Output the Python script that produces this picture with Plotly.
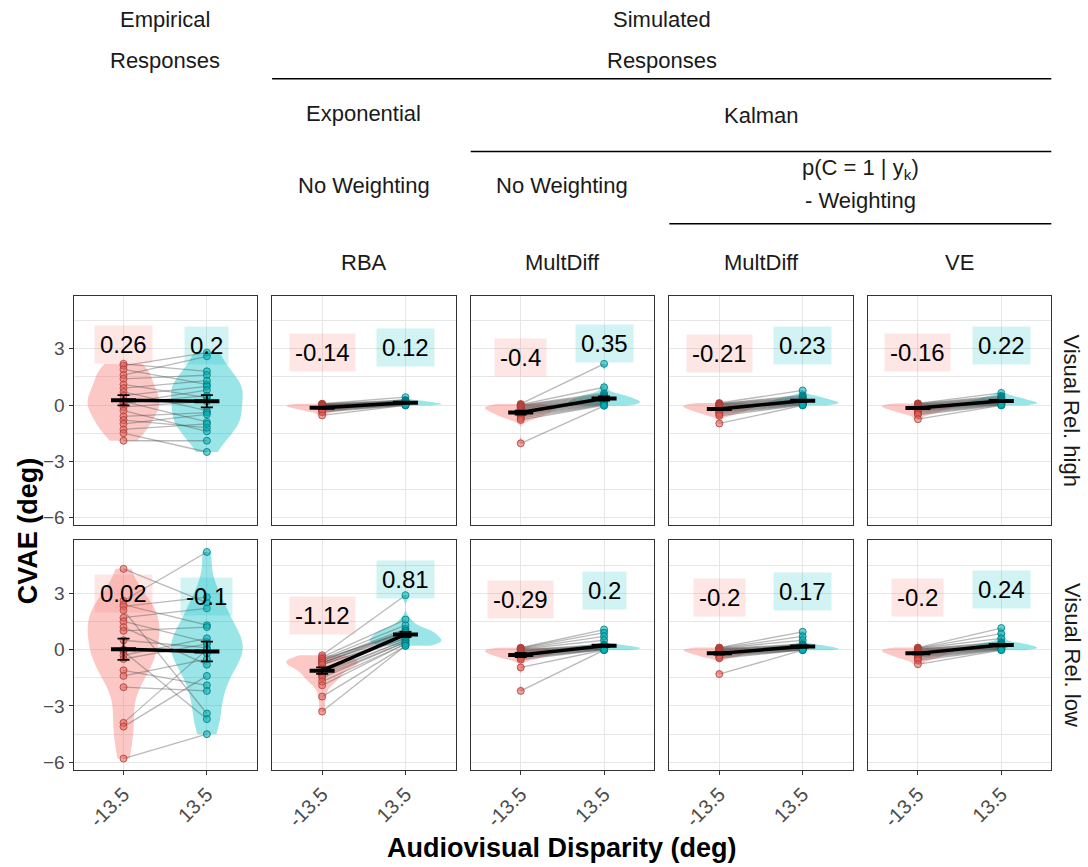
import numpy as np
import plotly.graph_objects as go

W, H = 1088, 867
FONT = "Liberation Sans, Arial, sans-serif"

# ---- axis values -------------------------------------------------------
disparity_pos = [1, 2]
disparity_ticks = ["-13.5", "13.5"]
y_ticks = [-6, -3, 0, 3]
y_minor = [-4.5, -1.5, 1.5, 4.5]
row_labels = ["Visual Rel. high", "Visual Rel. low"]

# ---- per-subject CVAE (deg) at -13.5 (neg) and 13.5 (pos) disparity ----
# Empirical responses
emp_high_neg = [2.2, 2.1, 1.9, 1.6, 1.4, 1.1, 0.9, 0.7, 0.5, 0.1, 0.2, 0.1, -0.1, -0.3, -0.6, -0.8, -1.0, -1.3, -1.5, -1.9]
emp_high_pos = [1.8, 2.8, 1.1, 2.6, 1.6, 0.4, 1.3, -0.3, 1.0, 0.8, -0.9, 0.5, 0.2, -1.4, -0.4, -1.2, -0.5, -1.0, -2.5, -1.9]
emp_low_neg = [4.3, 2.6, 2.4, 2.3, 2.1, 1.7, 1.5, 1.2, 1.0, 0.5, -0.1, 0.0, -0.3, -0.5, -1.1, -1.4, -2.0, -3.9, -4.1, -5.8]
emp_low_pos = [2.5, 5.2, 1.3, 2.8, -3.4, 2.2, 0.4, -0.8, 1.2, 0.1, -3.7, -0.2, 0.6, 0.3, -1.9, -0.5, -2.2, 0.0, -1.4, -4.5]

# Exponential, no weighting (RBA)
rba_high_neg = [0.07, 0.06, 0.04, 0.02, 0.0, -0.01, -0.03, -0.05, -0.07, -0.09, -0.12, -0.14, -0.16, -0.19, -0.22, -0.25, -0.29, -0.33, -0.38, -0.55]
rba_high_pos = [0.42, 0.27, 0.24, 0.21, 0.19, 0.17, 0.15, 0.14, 0.12, 0.1, 0.09, 0.08, 0.06, 0.05, 0.04, 0.03, 0.02, 0.01, -0.01, -0.02]
rba_low_neg = [-0.3, -0.4, -0.5, -0.6, -0.7, -0.5, -0.6, -0.7, -0.7, -0.8, -0.8, -1.0, -1.2, -1.3, -1.4, -1.5, -1.7, -1.9, -2.5, -3.3]
rba_low_pos = [2.9, 1.6, 1.3, 1.1, 1.0, 0.9, 1.0, 0.9, 0.8, 0.7, 0.6, 0.6, 0.5, 0.5, 0.4, 0.4, 0.3, 0.3, 0.2, 0.2]

# Kalman, no weighting (MultDiff)
md_high_neg = [0.06, 0.03, 0.0, -0.03, -0.06, -0.1, -0.13, -0.17, -0.21, -0.25, -0.29, -0.34, -0.39, -0.44, -0.49, -0.55, -0.62, -0.7, -0.79, -2.04]
md_high_pos = [2.2, 0.95, 0.63, 0.56, 0.5, 0.45, 0.4, 0.36, 0.32, 0.28, 0.24, 0.2, 0.17, 0.14, 0.11, 0.08, 0.05, 0.02, -0.01, -0.04]
md_low_neg = [0.1, 0.08, 0.05, 0.03, 0.0, -0.03, -0.06, -0.09, -0.12, -0.16, -0.19, -0.23, -0.27, -0.31, -0.36, -0.41, -0.46, -0.53, -0.95, -2.2]
md_low_pos = [1.07, 0.9, 0.7, 0.5, 0.27, 0.23, 0.2, 0.18, 0.16, 0.14, 0.12, 0.1, 0.08, 0.06, 0.04, 0.02, 0.01, 0.0, -0.02, -0.03]

# Kalman, p(C=1|y_k)-weighting (MultDiff)
kmd_high_neg = [0.11, 0.08, 0.06, 0.03, 0.01, -0.02, -0.05, -0.08, -0.11, -0.14, -0.18, -0.21, -0.25, -0.29, -0.33, -0.38, -0.43, -0.49, -0.57, -0.98]
kmd_high_pos = [0.78, 0.52, 0.46, 0.41, 0.37, 0.33, 0.29, 0.26, 0.23, 0.2, 0.18, 0.15, 0.13, 0.1, 0.08, 0.06, 0.04, 0.02, 0.0, -0.02]
kmd_low_neg = [0.11, 0.09, 0.07, 0.05, 0.02, 0.0, -0.02, -0.05, -0.07, -0.1, -0.13, -0.16, -0.19, -0.22, -0.26, -0.3, -0.35, -0.4, -0.46, -1.3]
kmd_low_pos = [0.95, 0.7, 0.5, 0.3, 0.25, 0.22, 0.19, 0.16, 0.14, 0.12, 0.1, 0.08, 0.06, 0.04, 0.03, 0.01, 0.0, -0.01, -0.02, -0.03]

# Kalman, p(C=1|y_k)-weighting (VE)
ve_high_neg = [0.09, 0.07, 0.05, 0.02, 0.0, -0.03, -0.05, -0.08, -0.11, -0.13, -0.16, -0.2, -0.23, -0.27, -0.3, -0.35, -0.39, -0.45, -0.52, -0.75]
ve_high_pos = [0.65, 0.49, 0.44, 0.39, 0.35, 0.31, 0.28, 0.25, 0.22, 0.19, 0.17, 0.14, 0.12, 0.1, 0.08, 0.06, 0.04, 0.02, 0.0, -0.02]
ve_low_neg = [0.11, 0.08, 0.06, 0.03, 0.01, -0.02, -0.05, -0.08, -0.11, -0.14, -0.18, -0.21, -0.25, -0.29, -0.33, -0.38, -0.43, -0.49, -0.57, -0.78]
ve_low_pos = [1.15, 0.85, 0.6, 0.4, 0.35, 0.31, 0.28, 0.25, 0.22, 0.19, 0.16, 0.13, 0.11, 0.09, 0.07, 0.05, 0.03, 0.01, -0.01, -0.03]

# Group means shown in the labels (per column: Empirical, RBA, MultDiff, MultDiff, VE)
mean_high_neg = [0.26, -0.14, -0.4, -0.21, -0.16]
mean_high_pos = [0.2, 0.12, 0.35, 0.23, 0.22]
mean_low_neg = [0.02, -1.12, -0.29, -0.2, -0.2]
mean_low_pos = [-0.1, 0.81, 0.2, 0.17, 0.24]

panel_data = [
    [(emp_high_neg, emp_high_pos), (rba_high_neg, rba_high_pos), (md_high_neg, md_high_pos),
     (kmd_high_neg, kmd_high_pos), (ve_high_neg, ve_high_pos)],
    [(emp_low_neg, emp_low_pos), (rba_low_neg, rba_low_pos), (md_low_neg, md_low_pos),
     (kmd_low_neg, kmd_low_pos), (ve_low_neg, ve_low_pos)],
]
panel_means = [(mean_high_neg, mean_high_pos), (mean_low_neg, mean_low_pos)]

# ---- styling -----------------------------------------------------------
RED, CYAN = (248, 118, 109), (0, 191, 196)
def rgba(c, a):
    return f"rgba({c[0]},{c[1]},{c[2]},{a})"

GRID = "#E6E6E6"
BORDER = "#333333"
TICKTXT = "#4D4D4D"
STRIP = "#1A1A1A"
LABEL_OFFSET = 2.95
Y_RANGE = [-6.4, 5.83]
X_RANGE = [0.4, 2.6]

col_left = [73.5, 272.1, 470.7, 669.3, 867.9]
col_w = 183.4
row_span = [(296.7, 527.0), (542.0, 772.5)]

def fx(p):
    return p / W

def fy(p):
    return 1 - p / H

def nrd0(v):
    v = np.asarray(v, float)
    sd = v.std(ddof=1)
    iqr = np.subtract(*np.percentile(v, [75, 25]))
    lo = min(sd, iqr / 1.34) if iqr > 0 else sd
    return 0.9 * lo * len(v) ** -0.2

def fmt(v):
    return f"{v:g}"

fig = go.Figure()
layout = {}
annotations = []
shapes = []

for r in range(2):
    for c in range(5):
        k = r * 5 + c + 1
        sfx = "" if k == 1 else str(k)
        xa, ya = "x" + sfx, "y" + sfx
        neg, pos = panel_data[r][c]
        m_neg, m_pos = panel_means[r][0][c], panel_means[r][1][c]

        # density shapes
        for xpos, vals, col in [(1, neg, RED), (2, pos, CYAN)]:
            fig.add_trace(go.Violin(
                x0=xpos, y=vals, xaxis=xa, yaxis=ya, orientation="v",
                width=0.86, scalemode="width", spanmode="hard",
                bandwidth=nrd0(vals), points=False,
                fillcolor=rgba(col, 0.4), line=dict(width=0, color=rgba(col, 0.4)),
                box_visible=False, meanline_visible=False,
                hoverinfo="skip", showlegend=False))

        # paired subject lines
        lx, ly = [], []
        for a, b in zip(neg, pos):
            lx += [1, 2, None]
            ly += [a, b, None]
        fig.add_trace(go.Scatter(x=lx, y=ly, xaxis=xa, yaxis=ya, mode="lines",
                                 line=dict(color="rgba(80,80,80,0.4)", width=1.3),
                                 hoverinfo="skip", showlegend=False))

        # subject points
        for xpos, vals, fill, edge in [(1, neg, "rgba(225,95,88,0.55)", "rgba(170,60,55,0.8)"),
                                       (2, pos, "rgba(0,175,180,0.55)", "rgba(0,120,125,0.8)")]:
            fig.add_trace(go.Scatter(x=[xpos] * len(vals), y=vals, xaxis=xa, yaxis=ya,
                                     mode="markers",
                                     marker=dict(size=7, color=fill, line=dict(color=edge, width=1)),
                                     hoverinfo="skip", showlegend=False))

        # mean +/- SE
        se = [np.std(neg, ddof=1) / np.sqrt(len(neg)), np.std(pos, ddof=1) / np.sqrt(len(pos))]
        fig.add_trace(go.Scatter(x=disparity_pos, y=[m_neg, m_pos], xaxis=xa, yaxis=ya,
                                 mode="lines", line=dict(color="black", width=3.5),
                                 error_y=dict(type="data", array=se, color="black",
                                              thickness=1.8, width=6),
                                 hoverinfo="skip", showlegend=False))
        fig.add_trace(go.Scatter(x=[0.85, 1.15, None, 1.85, 2.15],
                                 y=[m_neg, m_neg, None, m_pos, m_pos],
                                 xaxis=xa, yaxis=ya, mode="lines",
                                 line=dict(color="black", width=4),
                                 hoverinfo="skip", showlegend=False))

        # mean labels
        for xpos, m, col in [(1, m_neg, RED), (2, m_pos, CYAN)]:
            annotations.append(dict(x=xpos, y=m + LABEL_OFFSET, xref=xa, yref=ya,
                                    text=fmt(m), showarrow=False,
                                    font=dict(size=24, color="black", family=FONT),
                                    bgcolor=rgba(col, 0.18), borderpad=5,
                                    xanchor="center", yanchor="middle"))

        y0, y1 = row_span[r]
        x0 = col_left[c]
        layout["xaxis" + sfx] = dict(
            domain=[fx(x0), fx(x0 + col_w)], anchor=ya, range=X_RANGE, type="linear",
            tickvals=disparity_pos, ticktext=disparity_ticks,
            showticklabels=(r == 1), ticks="outside" if r == 1 else "",
            ticklen=4, tickwidth=1, tickcolor=BORDER, tickangle=-45,
            tickfont=dict(size=20, color=TICKTXT, family=FONT),
            showgrid=True, gridcolor=GRID, gridwidth=1.2, zeroline=False,
            showline=True, mirror=True, linecolor=BORDER, linewidth=1, fixedrange=True)
        layout["yaxis" + sfx] = dict(
            domain=[fy(y1), fy(y0)], anchor=xa, range=Y_RANGE, type="linear",
            tickvals=y_ticks, showticklabels=(c == 0), ticks="outside" if c == 0 else "",
            ticklen=4, tickwidth=1, tickcolor=BORDER,
            tickfont=dict(size=19, color=TICKTXT, family=FONT),
            showgrid=True, gridcolor=GRID, gridwidth=1.2, zeroline=False,
            minor=dict(tickvals=y_minor, showgrid=True, gridcolor=GRID, gridwidth=0.8, ticks=""),
            showline=True, mirror=True, linecolor=BORDER, linewidth=1, fixedrange=True)

    # row strip text
    annotations.append(dict(x=fx(1072), y=fy(sum(row_span[r]) / 2), xref="paper", yref="paper",
                            text=row_labels[r], textangle=90, showarrow=False,
                            font=dict(size=22, color=STRIP, family=FONT),
                            xanchor="center", yanchor="middle"))

# ---- nested column headers --------------------------------------------
def centre(c0, c1):
    return (col_left[c0] + col_left[c1] + col_w) / 2

header_text = [
    ("Empirical", centre(0, 0), 20), ("Responses", centre(0, 0), 61),
    ("Simulated", centre(1, 4), 20), ("Responses", centre(1, 4), 61),
    ("Exponential", centre(1, 1), 114), ("Kalman", centre(2, 4), 116),
    ("No Weighting", centre(1, 1), 186), ("No Weighting", centre(2, 2), 186),
    ("p(C = 1 | y<sub>k</sub>)", centre(3, 4), 170), ("- Weighting", centre(3, 4), 201),
    ("RBA", centre(1, 1), 263), ("MultDiff", centre(2, 2), 263),
    ("MultDiff", centre(3, 3), 263), ("VE", centre(4, 4), 263),
]
for txt, x, y in header_text:
    annotations.append(dict(x=fx(x), y=fy(y), xref="paper", yref="paper", text=txt,
                            showarrow=False, font=dict(size=22, color=STRIP, family=FONT),
                            xanchor="center", yanchor="middle"))

header_rules = [(1, 79), (2, 152), (3, 224.5)]
for c0, y in header_rules:
    shapes.append(dict(type="line", xref="paper", yref="paper",
                       x0=fx(col_left[c0]), x1=fx(col_left[4] + col_w), y0=fy(y), y1=fy(y),
                       line=dict(color="black", width=1.5)))

# ---- axis titles -------------------------------------------------------
annotations.append(dict(x=fx(28), y=fy(533), xref="paper", yref="paper",
                        text="<b>CVAE (deg)</b>", textangle=-90, showarrow=False,
                        font=dict(size=27, color="black", family=FONT),
                        xanchor="center", yanchor="middle"))
annotations.append(dict(x=fx(562), y=fy(851), xref="paper", yref="paper",
                        text="<b>Audiovisual Disparity (deg)</b>", showarrow=False,
                        font=dict(size=27, color="black", family=FONT),
                        xanchor="center", yanchor="middle"))

fig.update_layout(
    width=W, height=H, margin=dict(l=0, r=0, t=0, b=0),
    paper_bgcolor="white", plot_bgcolor="white",
    violinmode="overlay", violingap=0, violingroupgap=0,
    showlegend=False, annotations=annotations, shapes=shapes,
    font=dict(family=FONT),
    **layout,
)

fig.write_html("out.html")
